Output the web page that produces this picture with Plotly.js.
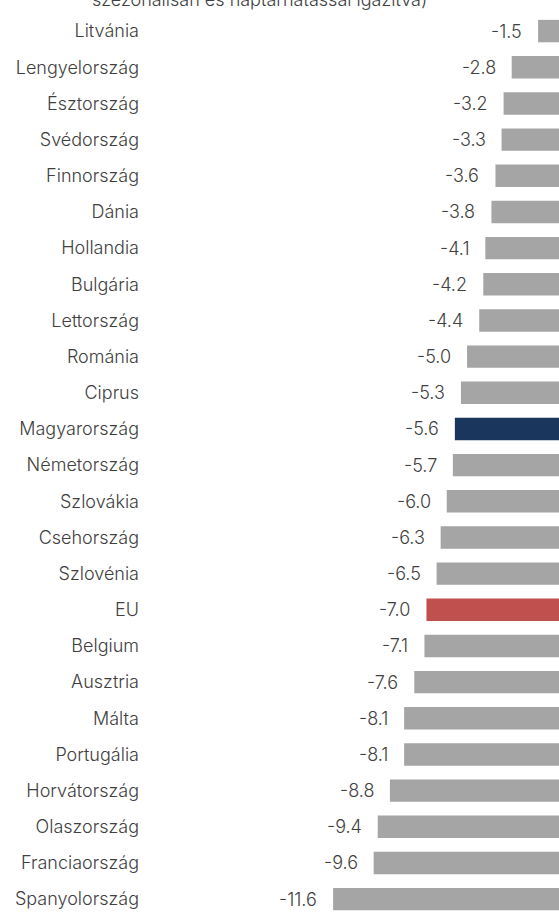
<!DOCTYPE html>
<html>
<head>
<meta charset="utf-8">
<script src="https://cdn.plot.ly/plotly-3.0.1.min.js"></script>
<style>html,body{margin:0;padding:0;background:#fff;}#chart{width:559px;height:912px;}</style>
</head>
<body>
<div id="chart"></div>
<script>
const countries = ["Litvánia","Lengyelország","Észtország","Svédország","Finnország","Dánia","Hollandia","Bulgária","Lettország","Románia","Ciprus","Magyarország","Németország","Szlovákia","Csehország","Szlovénia","EU","Belgium","Ausztria","Málta","Portugália","Horvátország","Olaszország","Franciaország","Spanyolország"];
const values = [-1.5,-2.8,-3.2,-3.3,-3.6,-3.8,-4.1,-4.2,-4.4,-5.0,-5.3,-5.6,-5.7,-6.0,-6.3,-6.5,-7.0,-7.1,-7.6,-8.1,-8.1,-8.8,-9.4,-9.6,-11.6];
const titleText = "szezonálisan és naptárhatással igazítva)";

const GRAY = "#A5A5A5", NAVY = "#1B365D", RED = "#C0504D";
const colors = countries.map(c => c === "Magyarország" ? NAVY : (c === "EU" ? RED : GRAY));
const FONT = "Inter, sans-serif";
const TXT = "#404040";
const FS = 18;

const annotations = countries.map((c, i) => ({
  x: values[i], y: c, xref: "x", yref: "y",
  text: values[i].toFixed(1), showarrow: false,
  xanchor: "right", yanchor: "middle", xshift: -14,
  font: {family: FONT, size: FS, color: TXT, weight: 300}
}));
annotations.push({
  x: 0.5, y: 1, xref: "paper", yref: "paper", xanchor: "center", yanchor: "bottom",
  yshift: 1, xshift: -95,
  text: titleText, showarrow: false,
  font: {family: FONT, size: FS, color: TXT, weight: 300}
});

Plotly.newPlot("chart", [{
  type: "bar", orientation: "h", x: values, y: countries,
  marker: {color: colors}, hoverinfo: "none"
}], {
  width: 559, height: 912,
  margin: {l: 150, r: 0, t: 13, b: 0},
  paper_bgcolor: "#fff", plot_bgcolor: "#fff",
  bargap: 0.38, showlegend: false,
  xaxis: {range: [-20.62, -0.47], visible: false, fixedrange: true},
  yaxis: {type: "category", range: [24.355, -0.5], showgrid: false, zeroline: false, showline: false,
          ticks: "", ticklabelstandoff: 10,
          tickfont: {family: FONT, size: FS, color: TXT, weight: 300}},
  annotations: annotations
}, {staticPlot: true});
</script>
</body>
</html>
